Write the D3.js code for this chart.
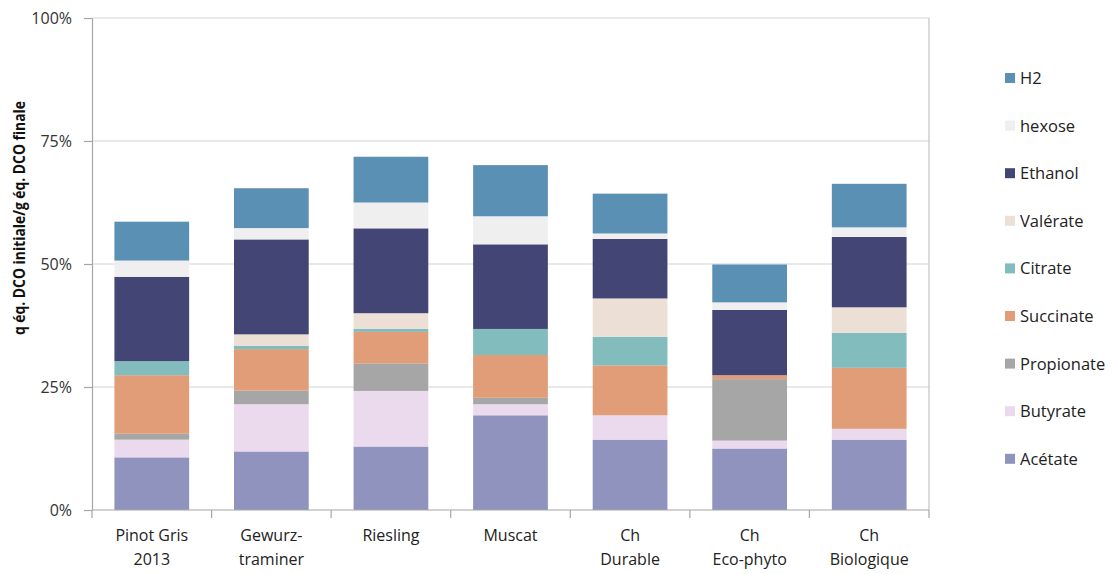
<!DOCTYPE html>
<html><head><meta charset="utf-8">
<script src="https://cdn.jsdelivr.net/npm/d3@7"></script>
<style>body{margin:0;background:#fff;} svg{display:block;font-family:"Open Sans",sans-serif;}</style>
</head><body><svg id="c" width="1115" height="574"></svg>
<script>
const categories = [["Pinot Gris","2013"],["Gewurz-","traminer"],["Riesling"],["Muscat"],["Ch","Durable"],["Ch","Eco-phyto"],["Ch","Biologique"]];
const seriesNames = ["Acétate","Butyrate","Propionate","Succinate","Citrate","Valérate","Ethanol","hexose","H2"];
const seriesColors = ["#8f93bd","#ebd9ee","#a6a6a6","#e09d78","#82bcbd","#ebdfd6","#434574","#f0eff0","#5b90b5"];
const acetate    = [10.7,11.9,12.9,19.25,14.3,12.5,14.3];
const butyrate   = [3.6,9.6,11.3,2.25,4.95,1.6,2.2];
const propionate = [1.2,2.75,5.6,1.3,0,12.5,0];
const succinate  = [11.9,8.45,6.4,8.7,10.15,0.8,12.4];
const citrate    = [2.85,0.7,0.6,5.3,5.8,0,7.1];
const valerate   = [0,2.3,3.2,0,7.8,0,5.2];
const ethanol    = [17.15,19.3,17.25,17.2,12.1,13.25,14.3];
const hexose     = [3.3,2.3,5.25,5.7,1.1,1.55,1.95];
const h2         = [7.9,8.1,9.3,10.4,8.1,7.7,8.85];
const yTicks = [0,25,50,75,100];
const yTitle = "q éq. DCO initiale/g éq. DCO finale";

const values = [acetate,butyrate,propionate,succinate,citrate,valerate,ethanol,hexose,h2];
const rows = categories.map((c,i)=>{const r={key:i}; seriesNames.forEach((s,j)=>r[s]=values[j][i]); return r;});
const stack = d3.stack().keys(seriesNames)(rows);

const svg = d3.select("#c");
const L=92,R=929,T=18,B=510;
const x = d3.scaleBand().domain(d3.range(categories.length)).range([L,R]).paddingInner(0.375).paddingOuter(0.1875);
const y = d3.scaleLinear().domain([0,100]).range([B,T]);

// gridlines
svg.append("g").selectAll("line").data(yTicks.filter(t=>t>0)).join("line")
  .attr("x1",L).attr("x2",R).attr("y1",d=>y(d)).attr("y2",d=>y(d))
  .attr("stroke","#d4d4d4").attr("stroke-width",1.2);
// right border
svg.append("line").attr("x1",R).attr("x2",R).attr("y1",T).attr("y2",B).attr("stroke","#c4c4c4").attr("stroke-width",1.2);

// bars
svg.append("g").selectAll("g").data(stack).join("g")
  .attr("fill",(d,i)=>seriesColors[i])
  .selectAll("rect").data(d=>d).join("rect")
  .attr("x",(d,i)=>x(i)).attr("width",x.bandwidth())
  .attr("y",d=>y(d[1])).attr("height",d=>Math.max(0,y(d[0])-y(d[1])));

// y axis
const ya = svg.append("g").attr("transform",`translate(${L},0)`)
  .call(d3.axisLeft(y).tickValues(yTicks).tickFormat(d=>d+"%").tickSize(8).tickSizeOuter(0));
ya.select(".domain").attr("stroke","#a6a6a6").attr("stroke-width",1.2);
ya.selectAll(".tick line").attr("stroke","#a6a6a6").attr("stroke-width",1.2);
ya.selectAll(".tick text").attr("font-size",16).attr("fill","#333").attr("x",-20).attr("font-family","Open Sans");

// x axis
const xa = svg.append("g").attr("transform",`translate(0,${B})`);
xa.append("line").attr("x1",L).attr("x2",R).attr("stroke","#a6a6a6").attr("stroke-width",1.2);
const bounds = d3.range(categories.length+1).map(i=>L+i*(R-L)/categories.length);
xa.selectAll("line.t").data(bounds).join("line").attr("class","t")
  .attr("x1",d=>d).attr("x2",d=>d).attr("y1",0).attr("y2",8).attr("stroke","#a6a6a6").attr("stroke-width",1.2);
xa.selectAll("text").data(categories).join("text")
  .attr("text-anchor","middle").attr("font-size",16).attr("fill","#222")
  .attr("transform",(d,i)=>`translate(${x(i)+x.bandwidth()/2},0)`)
  .selectAll("tspan").data(d=>d).join("tspan")
  .attr("x",0).attr("y",(d,j)=>31+j*24).text(d=>d);

// y title
svg.append("text").attr("transform",`translate(25,218) rotate(-90)`)
  .attr("text-anchor","middle").attr("font-weight","bold").attr("font-size",16).attr("fill","#111")
  .attr("textLength",234).attr("lengthAdjust","spacingAndGlyphs")
  .text(yTitle);

// legend
const lg = svg.append("g");
const legOrder = seriesNames.map((s,i)=>i).reverse();
const li = lg.selectAll("g").data(legOrder).join("g").attr("transform",(d,k)=>`translate(1005,${78+k*47.6})`);
li.append("rect").attr("x",0).attr("y",-5).attr("width",10).attr("height",10).attr("fill",d=>seriesColors[d]);
li.append("text").attr("x",15).attr("y",6).attr("font-size",16.5).attr("fill","#222").text(d=>seriesNames[d]);
</script></body></html>
